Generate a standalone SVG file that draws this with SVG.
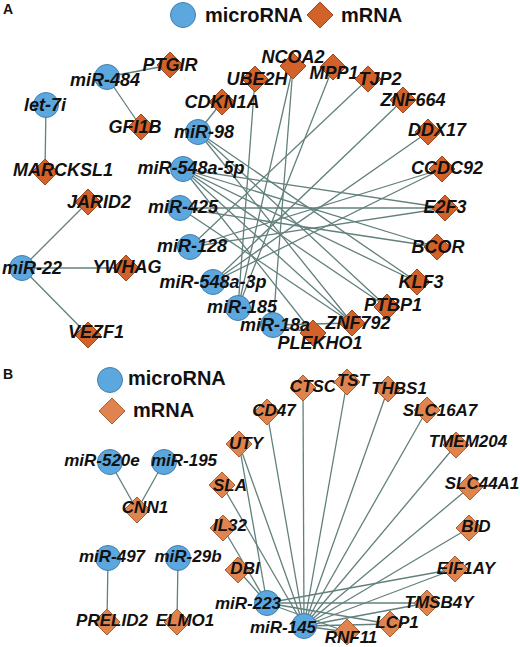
<svg xmlns="http://www.w3.org/2000/svg" width="520" height="647" viewBox="0 0 520 647">
<defs>
<style>
.bg{fill:#fff}
.e{stroke:#62807c;stroke-width:1.3;fill:none}
.mi{fill:#5da7df;stroke:#3f7fae;stroke-width:1}
.mA{fill:#d2622a;stroke:#9a4a1e;stroke-width:1}
.mB{fill:#e0844f;stroke:#a85f35;stroke-width:1}
.la{font-family:"Liberation Sans",Arial,sans-serif;font-weight:bold;font-style:italic;font-size:18px;fill:#111;text-anchor:middle}
.lb{font-family:"Liberation Sans",Arial,sans-serif;font-weight:bold;font-style:italic;font-size:17px;fill:#111;text-anchor:middle}
.leg{font-family:"Liberation Sans",Arial,sans-serif;font-weight:bold;font-size:20px;fill:#111}
.pl{font-family:"Liberation Sans",Arial,sans-serif;font-weight:bold;font-size:14px;fill:#111}
</style>
<circle id="c" r="12.5"/>
<polygon id="d" points="0,-13 13,0 0,13 -13,0"/>
</defs>
<rect class="bg" width="520" height="647"/>
<g id="panel-labels">
<text class="pl" x="3" y="14">A</text>
<text class="pl" x="3" y="379">B</text>
</g>
<g id="legend-A">
<circle class="mi" cx="183" cy="15" r="12.5"/>
<text class="leg" x="205" y="22">microRNA</text>
<polygon class="mA" points="320,2 333,15 320,28 307,15"/>
<text class="leg" x="341" y="22">mRNA</text>
</g>
<g id="legend-B">
<circle class="mi" cx="110" cy="380" r="12.5"/>
<text class="leg" x="128" y="385">microRNA</text>
<polygon class="mB" points="112,398 125,411 112,424 99,411"/>
<text class="leg" x="133" y="417">mRNA</text>
</g>
<g id="connectors">
<!-- panel A -->
<line class="e" x1="107" y1="77" x2="170" y2="65"/>
<line class="e" x1="107" y1="77" x2="141" y2="127"/>
<line class="e" x1="46" y1="105" x2="45" y2="172"/>
<line class="e" x1="22" y1="268" x2="88" y2="202"/>
<line class="e" x1="22" y1="268" x2="126" y2="268"/>
<line class="e" x1="22" y1="268" x2="88" y2="335"/>
<line class="e" x1="198" y1="132" x2="222" y2="102"/>
<line class="e" x1="198" y1="132" x2="387" y2="307"/>
<line class="e" x1="198" y1="132" x2="352" y2="323"/>
<line class="e" x1="198" y1="132" x2="417" y2="282"/>
<line class="e" x1="183" y1="169" x2="437" y2="247"/>
<line class="e" x1="183" y1="169" x2="417" y2="282"/>
<line class="e" x1="183" y1="169" x2="387" y2="307"/>
<line class="e" x1="183" y1="169" x2="352" y2="323"/>
<line class="e" x1="183" y1="169" x2="445" y2="208"/>
<line class="e" x1="183" y1="169" x2="313" y2="333"/>
<line class="e" x1="180" y1="208" x2="445" y2="208"/>
<line class="e" x1="180" y1="208" x2="437" y2="247"/>
<line class="e" x1="180" y1="208" x2="352" y2="323"/>
<line class="e" x1="190" y1="247" x2="368" y2="79"/>
<line class="e" x1="190" y1="247" x2="442" y2="169"/>
<line class="e" x1="190" y1="247" x2="445" y2="208"/>
<line class="e" x1="213" y1="282" x2="428" y2="132"/>
<line class="e" x1="213" y1="282" x2="403" y2="100"/>
<line class="e" x1="213" y1="282" x2="442" y2="169"/>
<line class="e" x1="238" y1="308" x2="255" y2="79"/>
<line class="e" x1="238" y1="308" x2="293" y2="67"/>
<line class="e" x1="238" y1="308" x2="333" y2="67"/>
<line class="e" x1="273" y1="325" x2="293" y2="67"/>
<line class="e" x1="273" y1="325" x2="352" y2="323"/>
<line class="e" x1="273" y1="325" x2="313" y2="333"/>
<!-- panel B -->
<line class="e" x1="110" y1="462" x2="137" y2="510"/>
<line class="e" x1="164" y1="462" x2="137" y2="510"/>
<line class="e" x1="108" y1="558" x2="107" y2="622"/>
<line class="e" x1="178" y1="558" x2="177" y2="622"/>
<line class="e" x1="267" y1="603" x2="239" y2="444"/>
<line class="e" x1="267" y1="603" x2="223" y2="528"/>
<line class="e" x1="267" y1="603" x2="238" y2="570"/>
<line class="e" x1="267" y1="603" x2="455" y2="569"/>
<line class="e" x1="267" y1="603" x2="427" y2="603"/>
<line class="e" x1="267" y1="603" x2="390" y2="624"/>
<line class="e" x1="267" y1="603" x2="347" y2="632"/>
<line class="e" x1="304" y1="626" x2="239" y2="444"/>
<line class="e" x1="304" y1="626" x2="222" y2="485"/>
<line class="e" x1="304" y1="626" x2="267" y2="412"/>
<line class="e" x1="304" y1="626" x2="303" y2="388"/>
<line class="e" x1="304" y1="626" x2="347" y2="382"/>
<line class="e" x1="304" y1="626" x2="388" y2="389"/>
<line class="e" x1="304" y1="626" x2="427" y2="410"/>
<line class="e" x1="304" y1="626" x2="456" y2="445"/>
<line class="e" x1="304" y1="626" x2="470" y2="487"/>
<line class="e" x1="304" y1="626" x2="469" y2="528"/>
<line class="e" x1="304" y1="626" x2="455" y2="569"/>
<line class="e" x1="304" y1="626" x2="427" y2="603"/>
<line class="e" x1="304" y1="626" x2="390" y2="624"/>
<line class="e" x1="304" y1="626" x2="347" y2="632"/>
</g>
<!-- Panel A nodes -->
<g id="let-7i"><use href="#c" class="mi" x="46" y="105"/><text class="la" x="45" y="111">let-7i</text></g>
<g id="miR-484"><use href="#c" class="mi" x="107" y="77"/><text class="la" x="105" y="86">miR-484</text></g>
<g id="PTGIR"><use href="#d" class="mA" x="170" y="65"/><text class="la" x="170" y="71">PTGIR</text></g>
<g id="GFI1B"><use href="#d" class="mA" x="141" y="127"/><text class="la" x="135" y="133">GFI1B</text></g>
<g id="MARCKSL1"><use href="#d" class="mA" x="45" y="172"/><text class="la" x="63" y="176">MARCKSL1</text></g>
<g id="JARID2"><use href="#d" class="mA" x="88" y="202"/><text class="la" x="99" y="208">JARID2</text></g>
<g id="miR-22"><use href="#c" class="mi" x="22" y="268"/><text class="la" x="32" y="274">miR-22</text></g>
<g id="YWHAG"><use href="#d" class="mA" x="126" y="268"/><text class="la" x="127" y="273">YWHAG</text></g>
<g id="VEZF1"><use href="#d" class="mA" x="88" y="335"/><text class="la" x="96" y="338">VEZF1</text></g>
<g id="UBE2H"><use href="#d" class="mA" x="255" y="79"/><text class="la" x="257" y="85">UBE2H</text></g>
<g id="CDKN1A"><use href="#d" class="mA" x="222" y="102"/><text class="la" x="222" y="108">CDKN1A</text></g>
<g id="NCOA2"><use href="#d" class="mA" x="293" y="66"/><text class="la" x="293" y="63">NCOA2</text></g>
<g id="MPP1"><use href="#d" class="mA" x="333" y="67"/><text class="la" x="334" y="79">MPP1</text></g>
<g id="TJP2"><use href="#d" class="mA" x="368" y="79"/><text class="la" x="380" y="85">TJP2</text></g>
<g id="ZNF664"><use href="#d" class="mA" x="403" y="100"/><text class="la" x="413" y="106">ZNF664</text></g>
<g id="DDX17"><use href="#d" class="mA" x="428" y="132"/><text class="la" x="437" y="136">DDX17</text></g>
<g id="CCDC92"><use href="#d" class="mA" x="442" y="169"/><text class="la" x="447" y="174">CCDC92</text></g>
<g id="E2F3"><use href="#d" class="mA" x="445" y="208"/><text class="la" x="445" y="213">E2F3</text></g>
<g id="BCOR"><use href="#d" class="mA" x="437" y="247"/><text class="la" x="438" y="253">BCOR</text></g>
<g id="KLF3"><use href="#d" class="mA" x="417" y="282"/><text class="la" x="421" y="288">KLF3</text></g>
<g id="PTBP1"><use href="#d" class="mA" x="387" y="307"/><text class="la" x="393" y="311">PTBP1</text></g>
<g id="ZNF792"><use href="#d" class="mA" x="352" y="323"/><text class="la" x="358" y="329">ZNF792</text></g>
<g id="PLEKHO1"><use href="#d" class="mA" x="313" y="333"/><text class="la" x="320" y="349">PLEKHO1</text></g>
<g id="miR-98"><use href="#c" class="mi" x="198" y="132"/><text class="la" x="204" y="138">miR-98</text></g>
<g id="miR-548a-5p"><use href="#c" class="mi" x="183" y="169"/><text class="la" x="191" y="174">miR-548a-5p</text></g>
<g id="miR-425"><use href="#c" class="mi" x="180" y="208"/><text class="la" x="183" y="213">miR-425</text></g>
<g id="miR-128"><use href="#c" class="mi" x="190" y="247"/><text class="la" x="192" y="252">miR-128</text></g>
<g id="miR-548a-3p"><use href="#c" class="mi" x="213" y="282"/><text class="la" x="213" y="288">miR-548a-3p</text></g>
<g id="miR-185"><use href="#c" class="mi" x="238" y="308"/><text class="la" x="242" y="313">miR-185</text></g>
<g id="miR-18a"><use href="#c" class="mi" x="273" y="325"/><text class="la" x="275" y="331">miR-18a</text></g>
<!-- Panel B nodes -->
<g id="miR-520e"><use href="#c" class="mi" x="110" y="462"/><text class="lb" x="102" y="466">miR-520e</text></g>
<g id="miR-195"><use href="#c" class="mi" x="164" y="462"/><text class="lb" x="184" y="466">miR-195</text></g>
<g id="CNN1"><use href="#d" class="mB" x="137" y="510"/><text class="lb" x="145" y="513">CNN1</text></g>
<g id="miR-497"><use href="#c" class="mi" x="108" y="558"/><text class="lb" x="112" y="562">miR-497</text></g>
<g id="miR-29b"><use href="#c" class="mi" x="178" y="558"/><text class="lb" x="188" y="562">miR-29b</text></g>
<g id="PRELID2"><use href="#d" class="mB" x="107" y="622"/><text class="lb" x="112" y="626">PRELID2</text></g>
<g id="ELMO1"><use href="#d" class="mB" x="177" y="622"/><text class="lb" x="185" y="626">ELMO1</text></g>
<g id="UTY"><use href="#d" class="mB" x="239" y="444"/><text class="lb" x="246" y="449">UTY</text></g>
<g id="SLA"><use href="#d" class="mB" x="222" y="485"/><text class="lb" x="230" y="491">SLA</text></g>
<g id="IL32"><use href="#d" class="mB" x="223" y="528"/><text class="lb" x="230" y="531">IL32</text></g>
<g id="DBI"><use href="#d" class="mB" x="238" y="570"/><text class="lb" x="245" y="574">DBI</text></g>
<g id="CD47"><use href="#d" class="mB" x="267" y="412"/><text class="lb" x="274" y="416">CD47</text></g>
<g id="CTSC"><use href="#d" class="mB" x="303" y="388"/><text class="lb" x="313" y="392">CTSC</text></g>
<g id="TST"><use href="#d" class="mB" x="347" y="382"/><text class="lb" x="353" y="386">TST</text></g>
<g id="THBS1"><use href="#d" class="mB" x="388" y="389"/><text class="lb" x="399" y="394">THBS1</text></g>
<g id="SLC16A7"><use href="#d" class="mB" x="427" y="410"/><text class="lb" x="440" y="416">SLC16A7</text></g>
<g id="TMEM204"><use href="#d" class="mB" x="456" y="445"/><text class="lb" x="468" y="447">TMEM204</text></g>
<g id="SLC44A1"><use href="#d" class="mB" x="470" y="487"/><text class="lb" x="482" y="489">SLC44A1</text></g>
<g id="BID"><use href="#d" class="mB" x="469" y="528"/><text class="lb" x="476" y="532">BID</text></g>
<g id="EIF1AY"><use href="#d" class="mB" x="455" y="569"/><text class="lb" x="466" y="574">EIF1AY</text></g>
<g id="TMSB4Y"><use href="#d" class="mB" x="427" y="603"/><text class="lb" x="439" y="608">TMSB4Y</text></g>
<g id="LCP1"><use href="#d" class="mB" x="390" y="624"/><text class="lb" x="397" y="628">LCP1</text></g>
<g id="RNF11"><use href="#d" class="mB" x="347" y="632"/><text class="lb" x="351" y="643">RNF11</text></g>
<g id="miR-223"><use href="#c" class="mi" x="267" y="603"/><text class="lb" x="248" y="609">miR-223</text></g>
<g id="miR-145"><use href="#c" class="mi" x="304" y="626"/><text class="lb" x="283" y="633">miR-145</text></g>
</svg>
